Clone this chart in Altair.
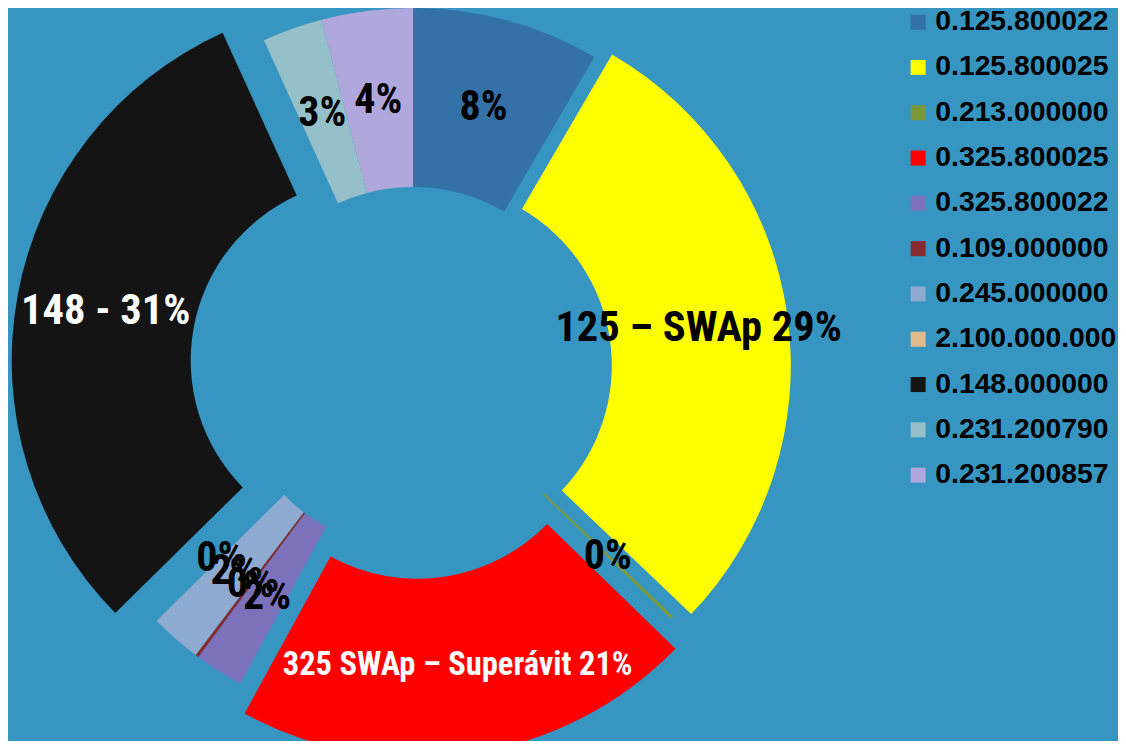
import math
import altair as alt
import pandas as pd

# ---- data ----
names = ["0.125.800022", "0.125.800025", "0.213.000000", "0.325.800025", "0.325.800022",
         "0.109.000000", "0.245.000000", "2.100.000.000", "0.148.000000", "0.231.200790",
         "0.231.200857"]
shares = [8.4, 28.75, 0.15, 20.7, 2.2, 0.15, 2.3, 0.0, 30.6, 2.7, 4.1]
slice_labels = ["8%", "125 \u2013 SWAp 29%", "0%", "325 SWAp \u2013 Superávit 21%", "2%", "0%",
                "2%", "0%", "148 - 31%", "3%", "4%"]

# ---- styles ----
colors = ["#3371a7", "#ffff00", "#7b973b", "#ff0000", "#7c72bb", "#862b2f", "#8eaad0",
          "#e0bb8d", "#141414", "#95c0c9", "#b0a8dc"]
label_colors = ["#000000", "#000000", "#000000", "#ffffff", "#000000", "#000000", "#000000",
                "#000000", "#ffffff", "#000000", "#000000"]
label_sizes = [42, 42.5, 42, 32.5, 42, 42, 42, 42, 42.5, 42, 42]
explode = [0, 18, 0, 30, 0, 0, 0, 0, 42, 0, 0]
CX, CY = 405, 360          # donut centre inside the chart
R_IN, R_OUT = 181, 360

total = sum(shares)
rows = []
acc = 0.0
for i, n in enumerate(names):
    t0 = acc / total * 2 * math.pi
    acc += shares[i]
    t1 = acc / total * 2 * math.pi
    mid = (t0 + t1) / 2
    rows.append(dict(
        name=n, share=shares[i], t0=t0, t1=t1, mid=mid,
        cx=CX + explode[i] * math.sin(mid),
        cy=CY - explode[i] * math.cos(mid),
        lab=slice_labels[i], lcol=label_colors[i], fs=label_sizes[i],
    ))
df = pd.DataFrame(rows)

base = alt.Chart(df)

arcs = base.mark_arc(innerRadius=R_IN, outerRadius=R_OUT).encode(
    x=alt.X("cx:Q", scale=None, axis=None),
    y=alt.Y("cy:Q", scale=None, axis=None),
    theta=alt.Theta("t0:Q", scale=None, stack=None),
    theta2="t1:Q",
    color=alt.Color(
        "name:N",
        sort=names,
        scale=alt.Scale(domain=names, range=colors),
        legend=alt.Legend(
            orient="none", legendX=896, legendY=0, title=None,
            symbolType="square", symbolSize=225, symbolStrokeWidth=0,
            labelFont="Liberation Sans", labelFontSize=28.3, labelFontWeight="bold",
            labelColor="#000000", labelOffset=3, rowPadding=16.3, padding=0,
            labelLimit=400,
        ),
    ),
)

texts = base.mark_text(
    radius=(R_IN + R_OUT) / 2,
    font="Roboto Condensed, Liberation Sans Narrow, DejaVu Sans Condensed, Roboto, sans-serif",
    fontWeight="bold", align="center", baseline="middle",
).encode(
    x=alt.X("cx:Q", scale=None, axis=None),
    y=alt.Y("cy:Q", scale=None, axis=None),
    theta=alt.Theta("mid:Q", scale=None, stack=None),
    text="lab:N",
    color=alt.Color("lcol:N", scale=None),
    size=alt.Size("fs:Q", scale=None),
)

chart = alt.layer(arcs, texts).properties(
    width=1110, height=733,
    autosize=alt.AutoSizeParams(type="none"),
    padding=0,
    background="#3795c1",
).configure_view(stroke=None)

chart.save("out.html", embed_options={"renderer": "svg", "actions": False})
